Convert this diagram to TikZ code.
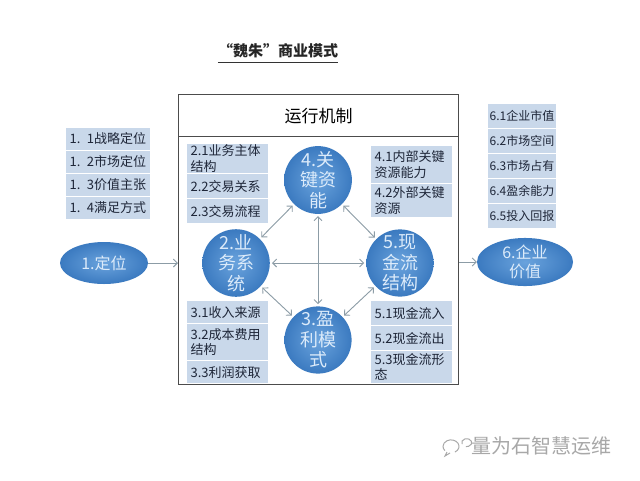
\documentclass[tikz,border=0pt]{standalone}
\usepackage{fontspec}
\setmainfont{Noto Sans CJK SC}
\usetikzlibrary{arrows.meta,shapes.geometric}
\definecolor{boxc}{HTML}{C9D8EA}
\definecolor{txtc}{HTML}{1E2638}
\definecolor{arrc}{HTML}{8C9CA6}
\definecolor{cin}{HTML}{6AA3DD}
\definecolor{cout}{HTML}{3B7AC0}
\definecolor{ctext}{HTML}{DCEBFA}
\definecolor{wmc}{HTML}{A8A8A8}
\begin{document}
\begin{tikzpicture}[x=1pt,y=-1pt,
  bx/.style={rectangle, fill=boxc, draw=white, line width=1.2pt, anchor=north west,
    inner xsep=4pt, inner ysep=1pt, align=left, text=txtc,
    font=\fontsize{13}{15.5}\selectfont},
  bxs/.style={bx, inner xsep=2pt, font=\fontsize{12}{14}\selectfont},
  circ/.style={circle, minimum size=66pt, inner sep=0pt, shading=radial,
    inner color=cin, outer color=cout, text=ctext, align=center,
    font=\fontsize{18}{20.5}\selectfont},
  ell/.style={ellipse, inner sep=0pt, shading=radial,
    inner color=cin, outer color=cout, text=ctext, align=center,
    font=\fontsize{16}{19}\selectfont},
  dbl/.style={draw=arrc, line width=0.9pt, shorten >=2pt, shorten <=2pt,
    {Straight Barb[length=4pt,width=8pt]}-{Straight Barb[length=4pt,width=8pt]}},
  sgl/.style={draw=arrc, line width=0.9pt, -{Straight Barb[length=4pt,width=8pt]}},
  framebox/.style={draw=black!70, line width=1.2pt, anchor=north west, inner sep=0pt}
]
\useasboundingbox[fill=white] (0,0) rectangle (640,480);

% title
\node[font=\fontsize{15}{18}\selectfont\bfseries, text=black!85, inner sep=0pt] (title) at (278,51) {“魏朱”商业模式};
\draw[black!80, line width=0.9pt] (title.west |- 0,62) -- (title.east |- 0,62);

% main frame
\node[framebox, minimum width=280pt, minimum height=290pt] (frame) at (178,94) {};
\node[framebox, minimum width=280pt, minimum height=42pt, font=\fontsize{17}{20}\selectfont] (hdr) at (178,94) {运行机制};

% left column
\node[bx, text width=77pt, minimum height=22.5pt] (b11) at (65,127) {1. 1战略定位};
\node[bx, text width=77pt, minimum height=22.5pt] (b12) at (65,150) {1. 2市场定位};
\node[bx, text width=77pt, minimum height=22.5pt] (b13) at (65,173) {1. 3价值主张};
\node[bx, text width=77pt, minimum height=22.5pt] (b14) at (65,196) {1. 4满足方式};
\node[ell, minimum width=88pt, minimum height=42pt] (e1) at (104,263) {1.定位};

% right column
\node[bxs, text width=65pt, minimum height=25pt] (b61) at (487,103) {6.1企业市值};
\node[bxs, text width=65pt, minimum height=25pt] (b62) at (487,128) {6.2市场空间};
\node[bxs, text width=65pt, minimum height=25pt] (b63) at (487,153) {6.3市场占有};
\node[bxs, text width=65pt, minimum height=25pt] (b64) at (487,178) {6.4盈余能力};
\node[bxs, text width=65pt, minimum height=25pt] (b65) at (487,203) {6.5投入回报};
\node[ell, minimum width=96pt, minimum height=46pt] (e6) at (525,262) {6.企业\\价值};

% inner boxes
\node[bx, text width=74pt, minimum height=30pt] (b21) at (186,143) {2.1业务主体\\结构};
\node[bx, text width=74pt, minimum height=25pt] (b22) at (186,173) {2.2交易关系};
\node[bx, text width=74pt, minimum height=25pt] (b23) at (186,198) {2.3交易流程};

\node[bx, text width=74pt, minimum height=38pt] (b41) at (370,145) {4.1内部关键\\资源能力};
\node[bx, text width=74pt, minimum height=34pt] (b42) at (370,183) {4.2外部关键\\资源};

\node[bx, text width=74pt, minimum height=23pt] (b31) at (186,300) {3.1收入来源};
\node[bx, text width=74pt, minimum height=37pt] (b32) at (186,323) {3.2成本费用\\结构};
\node[bx, text width=74pt, minimum height=23pt] (b33) at (186,360) {3.3利润获取};

\node[bx, text width=74pt, minimum height=25pt] (b51) at (370,300) {5.1现金流入};
\node[bx, text width=74pt, minimum height=25pt] (b52) at (370,325) {5.2现金流出};
\node[bx, text width=74pt, minimum height=33pt] (b53) at (370,350) {5.3现金流形\\态};

% circles
\node[circ] (c4) at (318,180) {4.关\\键资\\能};
\node[circ] (c2) at (236,263) {2.业\\务系\\统};
\node[circ] (c5) at (400,263) {5.现\\金流\\结构};
\node[circ] (c3) at (318,340) {3.盈\\利模\\式};

% connectors inside
\draw[dbl] (c4) -- (c2);
\draw[dbl] (c4) -- (c5);
\draw[dbl] (c2) -- (c5);
\draw[dbl] (c2) -- (c3);
\draw[dbl] (c5) -- (c3);
\draw[dbl] (c4) -- (c3);

% connectors outside
\draw[sgl] (e1.east) -- (e1.east -| frame.west);
\draw[sgl] (e6.west -| frame.east) -- (e6.west);

% watermark
\begin{scope}[draw=wmc, line width=1pt]
  \draw (455,452) arc[start angle=-60, end angle=220, x radius=8pt, y radius=6.5pt];
  \draw (447,452) -- (445,456) -- (450,453);
  \draw (462,444) arc[start angle=200, end angle=-100, x radius=5pt, y radius=4pt];
\end{scope}
\node[text=wmc, font=\fontsize{20}{23}\selectfont, anchor=west] (wm) at (468,446) {量为石智慧运维};
\end{tikzpicture}
\end{document}
